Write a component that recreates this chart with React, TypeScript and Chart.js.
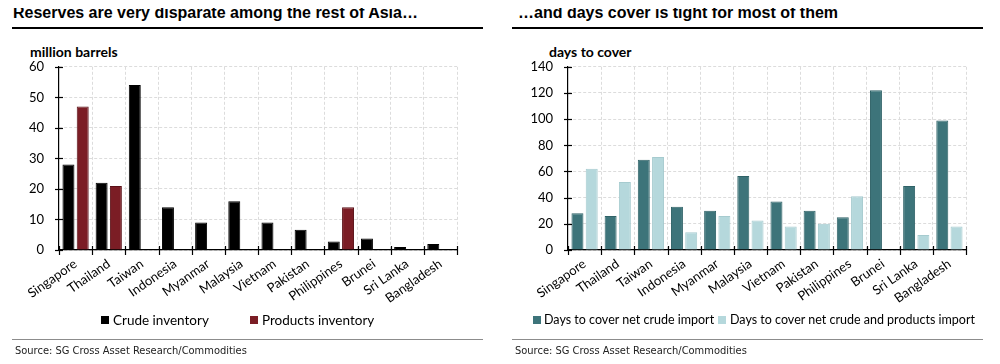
import { useEffect, useRef } from "react";
import { Chart, registerables } from "chart.js";

Chart.register(...registerables);

const countries = [
  "Singapore", "Thailand", "Taiwan", "Indonesia", "Myanmar", "Malaysia",
  "Vietnam", "Pakistan", "Philippines", "Brunei", "Sri Lanka", "Bangladesh",
];
const crudeInventory = [28, 22, 54, 14, 9, 16, 9, 6.6, 2.8, 3.8, 1, 2];
const productsInventory = [47, 21, null, null, null, null, null, null, 14, null, null, null];
const daysCrude = [28, 26, 69, 33, 30, 56.5, 37, 30, 25, 122, 49, 99];
const daysCrudeProducts = [62, 52, 71, 13.5, 26, 22.5, 18, 20, 41, null, 11.5, 18];

const leftTitle = "Reserves are very disparate among the rest of Asia…";
const rightTitle = "…and days cover is tight for most of them";
const leftUnit = "million barrels";
const rightUnit = "days to cover";
const sourceText = "Source: SG Cross Asset Research/Commodities";

const FONT = "Lato, 'Open Sans', sans-serif";

const crossTicks = {
  id: "crossTicks",
  afterDraw(chart: any) {
    const { ctx, chartArea, scales } = chart;
    const xs = scales.x;
    const ys = scales.y;
    ctx.save();
    ctx.strokeStyle = "#000";
    ctx.lineWidth = 1.2;
    ys.ticks.forEach((_t: any, i: number) => {
      const py = Math.round(ys.getPixelForTick(i)) + 0.5;
      ctx.beginPath();
      ctx.moveTo(chartArea.left - 4, py);
      ctx.lineTo(chartArea.left + 4, py);
      ctx.stroke();
    });
    for (let i = 0; i <= xs.ticks.length; i++) {
      const px = Math.round(xs.getPixelForValue(i - 0.5)) + 0.5;
      ctx.beginPath();
      ctx.moveTo(px, chartArea.bottom - 4);
      ctx.lineTo(px, chartArea.bottom + 5);
      ctx.stroke();
    }
    ctx.restore();
  },
};

type LegendItem = { label: string; color: string; boxX: number; textX: number };

type PanelProps = {
  left: number;
  title: string;
  titleX: number;
  unit: string;
  unitX: number;
  datasets: any[];
  max: number;
  step: number;
  yWidth: number;
  padRight: number;
  padTop: number;
  legend: LegendItem[];
  legendFont: number;
};

function Panel(p: PanelProps) {
  const ref = useRef<HTMLCanvasElement | null>(null);
  useEffect(() => {
    if (!ref.current) return;
    const chart = new Chart(ref.current, {
      type: "bar",
      data: { labels: countries, datasets: p.datasets },
      options: {
        animation: false,
        responsive: false,
        maintainAspectRatio: false,
        layout: { padding: { top: p.padTop, right: p.padRight, bottom: 14, left: 0 } },
        plugins: {
          legend: { display: false },
          tooltip: { enabled: false },
        },
        scales: {
          x: {
            grid: { color: "#dcdcdc", drawTicks: false, offset: true },
            border: { display: true, color: "#000", width: 1.2, dash: [3, 2] },
            ticks: {
              minRotation: 35,
              maxRotation: 35,
              autoSkip: false,
              padding: 6,
              color: "#000",
              font: { family: FONT, size: 13 },
            },
            afterFit: (s: any) => { s.height = 56; },
          },
          y: {
            min: 0,
            max: p.max,
            grid: { color: "#dcdcdc", drawTicks: false },
            border: { display: true, color: "#000", width: 1.2, dash: [3, 2] },
            ticks: {
              stepSize: p.step,
              padding: 15,
              color: "#000",
              font: { family: FONT, size: 13 },
            },
            afterFit: (s: any) => { s.width = p.yWidth; },
          },
        },
      },
      plugins: [crossTicks],
    } as any);
    return () => chart.destroy();
  }, []);

  return (
    <div style={{ position: "absolute", left: p.left, top: 0, width: 500, height: 364 }}>
      <div
        style={{
          position: "absolute", left: p.titleX, top: 4,
          font: "bold 16px 'Liberation Sans', Arial, sans-serif", color: "#000",
          whiteSpace: "nowrap",
        }}
      >
        {p.title}
      </div>
      <div style={{ position: "absolute", left: 12, top: 27, width: 471, height: 2, background: "#000" }} />
      <div
        style={{
          position: "absolute", left: p.unitX, top: 43,
          font: `bold 14px ${FONT}`, color: "#000", whiteSpace: "nowrap",
        }}
      >
        {p.unit}
      </div>
      <canvas
        ref={ref}
        width={470}
        height={276}
        style={{ position: "absolute", left: 12, top: 44, width: 470, height: 276 }}
      />
      {p.legend.map((it) => (
        <div key={it.label}>
          <div
            style={{
              position: "absolute", left: it.boxX, top: 316, width: 8, height: 8,
              background: it.color,
            }}
          />
          <div
            style={{
              position: "absolute", left: it.textX, top: 311,
              font: `${p.legendFont}px ${FONT}`, color: "#000", whiteSpace: "nowrap",
              lineHeight: "18px",
            }}
          >
            {it.label}
          </div>
        </div>
      ))}
      <div style={{ position: "absolute", left: 12, top: 339, width: 471, height: 1, background: "#8c8c8c" }} />
      <div
        style={{
          position: "absolute", left: 15, top: 344,
          font: "11px 'Liberation Sans Narrow', 'DejaVu Sans Condensed', sans-serif", color: "#222",
          whiteSpace: "nowrap",
        }}
      >
        {sourceText}
      </div>
    </div>
  );
}

const crudeColor = "#000000";
const productsColor = "#7b1d25";
const daysCrudeColor = "#3d747a";
const daysBothColor = "#b5d8dc";

export default function App() {
  const leftSets = [
    {
      label: "Crude inventory",
      data: crudeInventory,
      backgroundColor: crudeColor,
      borderColor: crudeColor,
      borderWidth: 1,
      categoryPercentage: 0.86,
      barPercentage: 0.84,
    },
    {
      label: "Products inventory",
      data: productsInventory,
      backgroundColor: productsColor,
      borderColor: "#5a1017",
      borderWidth: 1,
      categoryPercentage: 0.86,
      barPercentage: 0.84,
    },
  ];
  const rightSets = [
    {
      label: "Days to cover net crude import",
      data: daysCrude,
      backgroundColor: daysCrudeColor,
      borderColor: "#2f6267",
      borderWidth: 1,
      categoryPercentage: 0.86,
      barPercentage: 0.84,
    },
    {
      label: "Days to cover net crude and products import",
      data: daysCrudeProducts,
      backgroundColor: daysBothColor,
      borderColor: "#a6cbcf",
      borderWidth: 1,
      categoryPercentage: 0.86,
      barPercentage: 0.84,
    },
  ];
  const leftLegend: LegendItem[] = [
    { label: leftSets[0].label, color: crudeColor, boxX: 101, textX: 113 },
    { label: leftSets[1].label, color: productsColor, boxX: 250, textX: 262 },
  ];
  const rightLegend: LegendItem[] = [
    { label: rightSets[0].label, color: daysCrudeColor, boxX: 33, textX: 44 },
    { label: rightSets[1].label, color: daysBothColor, boxX: 218, textX: 230 },
  ];
  return (
    <div style={{ position: "relative", width: 1000, height: 364, background: "#fff", margin: -8 }}>
      <Panel
        left={0} title={leftTitle} titleX={13} unit={leftUnit} unitX={30}
        datasets={leftSets} max={60} step={10} yWidth={47} padRight={25} padTop={0}
        legend={leftLegend} legendFont={13.5}
      />
      <Panel
        left={500} title={rightTitle} titleX={18} unit={rightUnit} unitX={49}
        datasets={rightSets} max={140} step={20} yWidth={56} padRight={16} padTop={4}
        legend={rightLegend} legendFont={12.5}
      />
    </div>
  );
}
